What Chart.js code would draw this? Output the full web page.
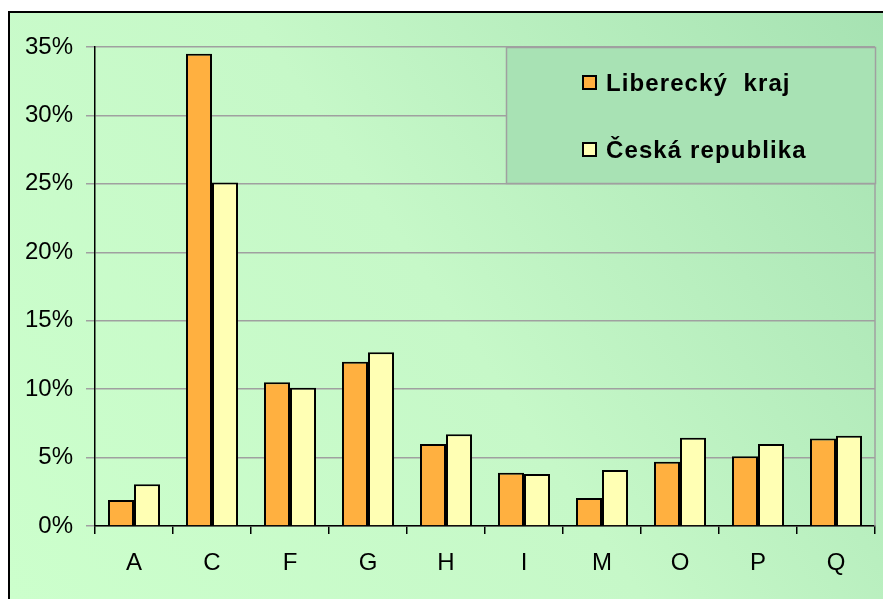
<!DOCTYPE html>
<html>
<head>
<meta charset="utf-8">
<script src="https://cdn.jsdelivr.net/npm/chart.js@4.4.0/dist/chart.umd.min.js"></script>
<style>
  html, body { margin: 0; padding: 0; background: #ffffff; }
  canvas { display: block; }
</style>
</head>
<body>
<canvas id="ZamestnanostChart" width="883" height="599"></canvas>
<script>
var Categories = ['A', 'C', 'F', 'G', 'H', 'I', 'M', 'O', 'P', 'Q'];
var SeriesNames = ['Liberecký  kraj', 'Česká republika'];
var LiberecValues = [1.9, 34.5, 10.5, 12.0, 6.0, 3.9, 2.05, 4.7, 5.1, 6.4];
var CrValues = [3.05, 25.1, 10.1, 12.7, 6.7, 3.8, 4.1, 6.45, 6.0, 6.6];
var YTicks = [0, 5, 10, 15, 20, 25, 30, 35];

// background of the whole chart + outer frame
var backgroundPlugin = {
    id: 'bgFrame',
    beforeDraw: function (chart) {
        var ctx = chart.ctx;
        ctx.save();
        var grad = ctx.createLinearGradient(8, 599, 883, 11);
        grad.addColorStop(0, '#ccffcc');
        grad.addColorStop(0.5, '#c6f8c8');
        grad.addColorStop(1, '#a6e2b2');
        ctx.fillStyle = grad;
        ctx.fillRect(9, 12, 883, 599);
        ctx.strokeStyle = '#000000';
        ctx.lineWidth = 2;
        ctx.strokeRect(9, 12, 900, 620);
        ctx.restore();
    }
};

// legend box drawn in the upper right corner of the plot
var legendBoxPlugin = {
    id: 'legendBox',
    afterDatasetsDraw: function (chart) {
        var ctx = chart.ctx;
        var area = chart.chartArea;
        ctx.save();
        // right edge of plot area
        ctx.strokeStyle = '#a0a0a0';
        ctx.lineWidth = 1.5;
        ctx.beginPath();
        ctx.moveTo(area.right, area.top);
        ctx.lineTo(area.right, area.bottom);
        ctx.stroke();

        var x = 506, y = area.top, w = area.right - 506, h = 136;
        ctx.fillStyle = '#a8e2b4';
        ctx.fillRect(x, y, w, h);
        ctx.strokeStyle = '#a0a0a0';
        ctx.strokeRect(x + 0.5, y + 0.5, w, h);

        var rows = [83, 150];
        chart.data.datasets.forEach(function (ds, i) {
            ctx.fillStyle = ds.backgroundColor;
            ctx.fillRect(583, rows[i] - 7, 13, 13);
            ctx.strokeStyle = '#000000';
            ctx.lineWidth = 2;
            ctx.strokeRect(583, rows[i] - 7, 13, 13);
            ctx.fillStyle = '#000000';
            ctx.font = 'bold 24px "Liberation Sans", Arial, sans-serif';
            ctx.letterSpacing = '1.1px';
            ctx.textBaseline = 'middle';
            ctx.textAlign = 'left';
            ctx.fillText(ds.label, 606, rows[i] + 1);
        });
        ctx.restore();
    }
};

var ctx = document.getElementById('ZamestnanostChart').getContext('2d');
var MyChart = new Chart(ctx, {
    type: 'bar',
    data: {
        labels: Categories,
        datasets: [{
            label: SeriesNames[0],
            data: LiberecValues,
            backgroundColor: '#ffb040',
            borderColor: '#000000',
            borderWidth: 2
        }, {
            label: SeriesNames[1],
            data: CrValues,
            backgroundColor: '#ffffb4',
            borderColor: '#000000',
            borderWidth: 2
        }]
    },
    options: {
        responsive: false,
        animation: false,
        devicePixelRatio: 1,
        layout: {
            padding: { left: 0, top: 47, right: 8, bottom: 0 }
        },
        datasets: {
            bar: { barPercentage: 1.0, categoryPercentage: 0.667 }
        },
        plugins: {
            legend: { display: false },
            tooltip: { enabled: false }
        },
        scales: {
            x: {
                grid: {
                    drawOnChartArea: false,
                    drawTicks: true,
                    tickLength: 8,
                    color: '#000000',
                    lineWidth: 1.5
                },
                border: { color: '#000000', width: 1.5 },
                ticks: {
                    color: '#000000',
                    padding: 15,
                    font: { family: '"Liberation Sans", Arial, sans-serif', size: 24 }
                },
                afterFit: function (scale) { scale.height = 73; }
            },
            y: {
                min: 0,
                max: 35,
                afterBuildTicks: function (scale) {
                    scale.ticks = YTicks.map(function (v) { return { value: v }; });
                },
                grid: {
                    color: '#a0a0a0',
                    lineWidth: 1.5,
                    tickLength: 9
                },
                border: { color: '#000000', width: 1.5 },
                ticks: {
                    color: '#000000',
                    padding: 13,
                    font: { family: '"Liberation Sans", Arial, sans-serif', size: 24 },
                    callback: function (v) { return v + '%'; }
                },
                afterFit: function (scale) { scale.width = 95; }
            }
        }
    },
    plugins: [backgroundPlugin, legendBoxPlugin]
});
</script>
</body>
</html>
